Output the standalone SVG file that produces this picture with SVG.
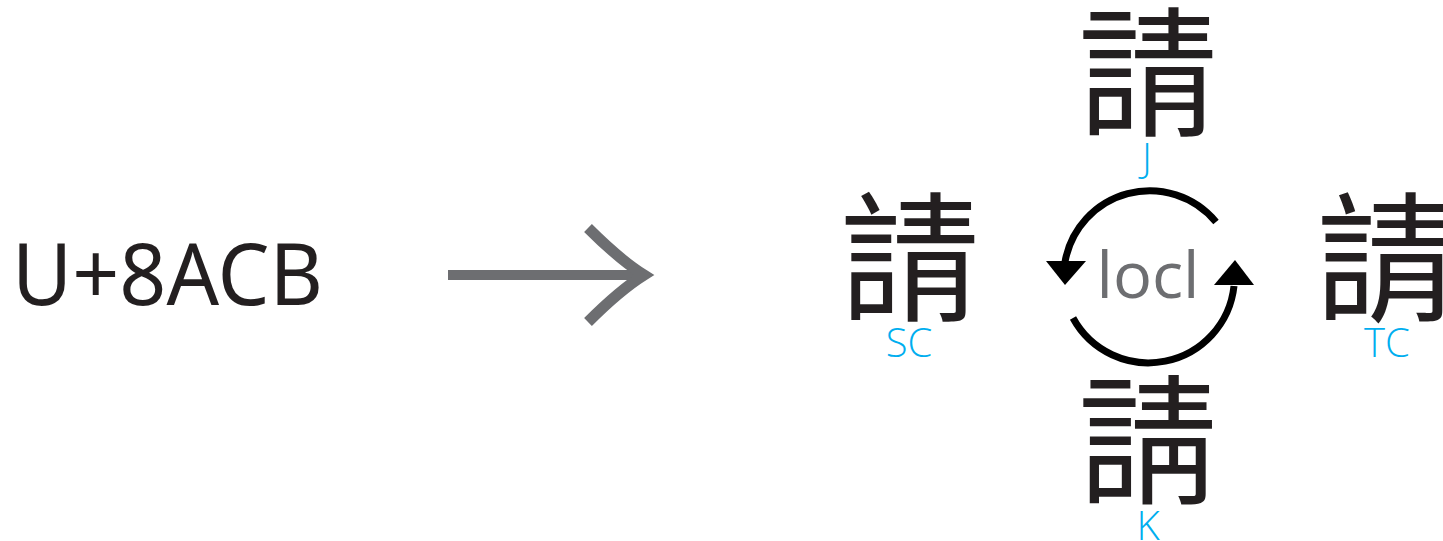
<svg xmlns="http://www.w3.org/2000/svg" width="1443" height="541" viewBox="0 0 1443 541">
<style>
.han{font-size:140px;fill:#231f20;text-anchor:middle}
.lab{font-family:"Open Sans","Noto Sans",sans-serif;font-weight:300;font-size:40px;fill:#00aeef;text-anchor:middle}
.gray{stroke:#6d6e71;fill:none}
.cyc{stroke:#000;stroke-width:7;fill:none}
</style>
<rect width="1443" height="541" fill="#fff"/>
<g id="source">
<text x="12" y="305" font-family="Noto Sans, sans-serif" font-size="86" fill="#231f20" textLength="311" lengthAdjust="spacingAndGlyphs">U+8ACB</text>
</g>
<g id="connectors">
<line class="gray" x1="448" y1="275" x2="640" y2="275" stroke-width="10"/>
<path class="gray" stroke-width="11" d="M588,228 Q620,260 644,275 Q620,290 588,322"/>
<path class="cyc" d="M1216,222 A86,86 0 0 0 1065,262"/>
<polygon points="1046,261 1086,261 1065,285" fill="#000"/>
<path class="cyc" d="M1073,318 A86,86 0 0 0 1234,286"/>
<polygon points="1214,285 1254,285 1235,260" fill="#000"/>
<text x="1148" y="298" font-family="Open Sans, sans-serif" font-size="64" fill="#6d6e71" text-anchor="middle" textLength="103" lengthAdjust="spacingAndGlyphs">locl</text>
</g>
<g id="sc">
<text class="han" x="910" y="310" lang="zh-CN" font-family="Noto Sans CJK SC, sans-serif">請</text>
<text class="lab" x="909" y="357">SC</text>
</g>
<g id="j">
<text class="han" x="1148" y="125" lang="ja" font-family="Noto Sans CJK JP, sans-serif">請</text>
<text class="lab" x="1147" y="172">J</text>
</g>
<g id="tc">
<text class="han" x="1386" y="310" lang="zh-TW" font-family="Noto Sans CJK TC, sans-serif">請</text>
<text class="lab" x="1387" y="357">TC</text>
</g>
<g id="k">
<text class="han" x="1148" y="493" lang="ko" font-family="Noto Sans CJK KR, sans-serif">請</text>
<text class="lab" x="1148" y="540">K</text>
</g>
</svg>
